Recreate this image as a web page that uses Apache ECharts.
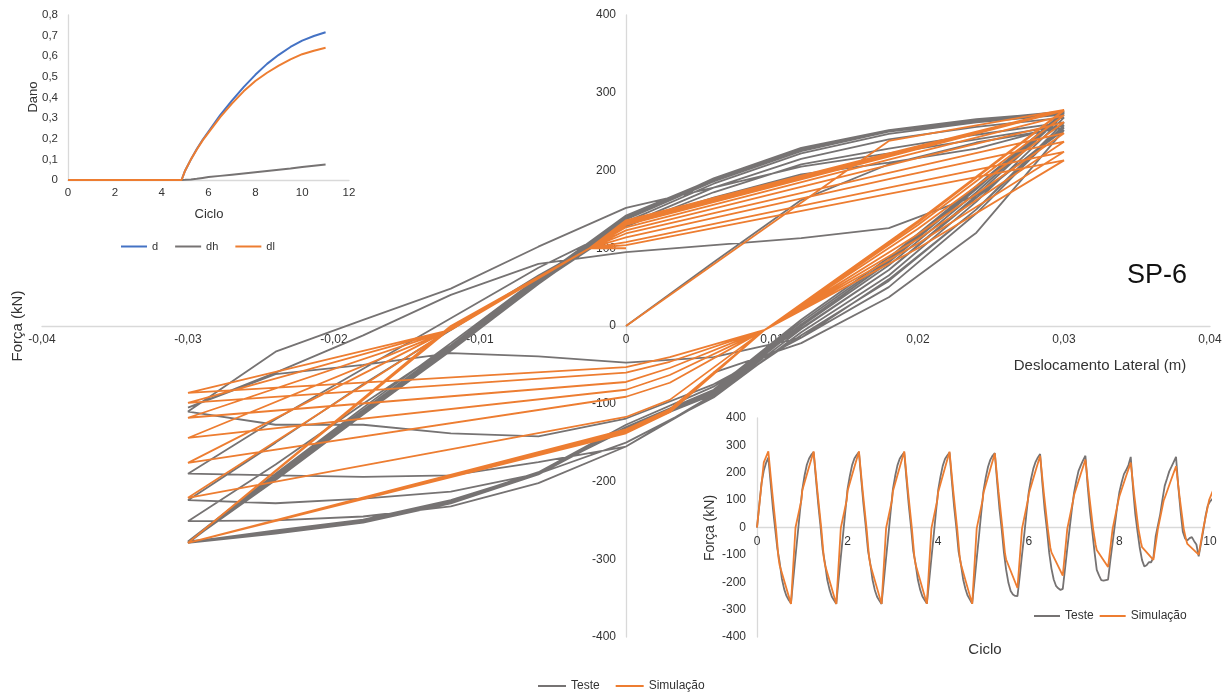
<!DOCTYPE html>
<html>
<head>
<meta charset="utf-8">
<title>SP-6</title>
<script src="https://cdn.jsdelivr.net/npm/echarts@6/dist/echarts.min.js"></script>
<style>
  html, body { margin: 0; padding: 0; background: #fff; }
  #chart { width: 1229px; height: 700px; }
</style>
</head>
<body>
<div id="chart"></div>
<script>
// deslocamento de cada ponto do ensaio dentro de um ciclo (m)
const testeDisp = [0, 0.006, 0.012, 0.018, 0.024, 0.03, 0.024, 0.018, 0.012, 0.006,
                   0, -0.006, -0.012, -0.018, -0.024, -0.03, -0.024, -0.018, -0.012, -0.006];
const testeStep = 0.05; // ciclo por ponto do ensaio
// força do ensaio (kN), um array por ciclo
const testeForce = [
  [0, 82, 162, 208, 236, 255, 165, 72, -3, -78, -127, -188, -225, -250, -265, -277, -190, -105, -22, 62],
  [138, 190, 229, 252, 266, 275, 180, 88, 8, -82, -130, -190, -226, -252, -266, -279, -192, -108, -25, 60],
  [142, 189, 228, 252, 265, 276, 178, 85, 5, -84, -131, -191, -228, -253, -267, -279, -194, -110, -28, 58],
  [140, 188, 227, 251, 264, 275, 176, 82, 2, -86, -132, -190, -226, -251, -265, -278, -196, -112, -30, 56],
  [137, 186, 225, 250, 263, 274, 172, 78, 0, -88, -133, -189, -224, -249, -263, -278, -198, -114, -32, 54],
  [134, 183, 222, 247, 262, 272, 168, 72, -4, -90, -155, -202, -232, -245, -250, -251, -178, -100, -25, 55],
  [130, 178, 215, 240, 256, 268, 160, 65, -8, -92, -150, -190, -213, -222, -228, -224, -150, -75, -5, 65],
  [128, 172, 208, 228, 246, 262, 150, 58, -12, -88, -155, -175, -192, -194, -192, -190, -120, -55, 10, 75],
  [130, 165, 195, 210, 228, 258, 145, 50, -15, -75, -119, -142, -138, -127, -127, -110, -33, 8, 48, 102],
  [152, 178, 205, 222, 240, 258, 150, 60, -15, -40, -47, -39, -35, -50, -62, -105, -60, -12, 40, 80],
  [95, 104, 113, 126, 168, 252, 120, 37, -22, -60]
];

// simulação: deslocamento e fase (fração do ciclo) dos pontos de cada ciclo
const simDisp  = [0, 0.018, 0.03, 0.02, 0.0095, 0.003, 0, -0.03, -0.012, -0.0025];
const simPhase = [0, 0.15, 0.25, 0.333, 0.42, 0.475, 0.5, 0.75, 0.85, 0.98];
const simForce = [
  [0, 238, 278, 135, -5, -111, -138, -279, 0, 100],
  [136, 222, 278, 135, -5, -110, -136, -279, -2, 100],
  [134, 221, 278, 134, -5, -109, -135, -279, -2, 100],
  [132, 220, 278, 134, -5, -108, -134, -279, -3, 100],
  [130, 218, 277, 133, -5, -107, -133, -279, -3, 100],
  [127, 214, 271, 130, -5, -95, -117, -221, -4, 100],
  [123, 207, 262, 125, -5, -73, -91, -176, -4, 100],
  [119, 197, 248, 118, -5, -63, -82, -144, -5, 100],
  [114, 189, 237, 112, -5, -54, -72, -118, -5, 100],
  [108, 178, 224, 106, -5, -46, -60, -99, -5, 100],
  [104, 170, 213, 100, -5, -40, -53, -86, -5, 100],
  [100]
];

// dano
const danoCiclo = [0, 4.85, 5, 5.25, 5.5, 5.75, 6, 6.5, 7, 7.5, 8, 8.5, 9, 9.5, 10, 10.5, 11];
const danoD  = [0, 0, 0.045, 0.1, 0.15, 0.195, 0.235, 0.315, 0.385, 0.45, 0.51, 0.563, 0.607, 0.645, 0.676, 0.698, 0.716];
const danoDh = [0, 0, 0.001, 0.003, 0.006, 0.01, 0.014, 0.02, 0.026, 0.032, 0.038, 0.044, 0.05, 0.056, 0.063, 0.069, 0.075];
const danoDl = [0, 0, 0.045, 0.1, 0.148, 0.192, 0.23, 0.305, 0.37, 0.43, 0.48, 0.52, 0.555, 0.585, 0.61, 0.627, 0.641];

const CINZA = '#767373';
const LARANJA = '#ED7D31';
const AZUL = '#4472C4';
const FONTE = '"Liberation Sans", Arial, sans-serif';

// monta os pares [x, y]
const mainTeste = [], cicloTeste = [];
testeForce.forEach((ciclo, c) => {
  ciclo.forEach((f, j) => {
    mainTeste.push([testeDisp[j], f]);
    cicloTeste.push([c + j * testeStep, f]);
  });
});
const mainSim = [], cicloSim = [];
simForce.forEach((ciclo, c) => {
  ciclo.forEach((f, j) => {
    mainSim.push([simDisp[j], f]);
    cicloSim.push([c + simPhase[j], f]);
  });
});
const par = (xs, ys) => xs.map((x, i) => [x, ys[i]]);

function virgula(v, casas) {
  if (Math.abs(v) < 1e-9) return '0';
  return v.toFixed(casas).replace('.', ',');
}

const linha = (name, data, cor, idx, extra) => Object.assign({
  name: name,
  type: 'line',
  xAxisIndex: idx,
  yAxisIndex: idx,
  data: data,
  symbol: 'none',
  showSymbol: false,
  lineStyle: { width: 2, color: cor },
  itemStyle: { color: cor },
  emphasis: { disabled: true },
  silent: true
}, extra || {});

const eixoTexto = { color: '#333', fontFamily: FONTE };
const linhaEixo = { color: '#d9d9d9', width: 1.3 };

const chart = echarts.init(document.getElementById('chart'));
chart.setOption({
  animation: false,
  backgroundColor: '#fff',
  textStyle: { fontFamily: FONTE },
  grid: [
    { left: 42, top: 15, width: 1168, height: 622 },
    { left: 68, top: 15, width: 281, height: 165 },
    { left: 757, top: 418, width: 453, height: 219 }
  ],
  xAxis: [
    {
      // eixo desenhado na linha de força zero
      gridIndex: 0, type: 'value', min: -0.04, max: 0.04, interval: 0.01,
      position: 'bottom', offset: -311,
      axisLine: { onZero: false, lineStyle: linhaEixo },
      axisTick: { show: false }, splitLine: { show: false },
      axisLabel: Object.assign({ fontSize: 12, margin: 8, formatter: v => virgula(v, 2) }, eixoTexto)
    },
    {
      gridIndex: 1, type: 'value', min: 0, max: 12, interval: 2,
      axisLine: { onZero: false, lineStyle: linhaEixo },
      axisTick: { show: false }, splitLine: { show: false },
      axisLabel: Object.assign({ fontSize: 11.5, margin: 7 }, eixoTexto)
    },
    {
      gridIndex: 2, type: 'value', min: 0, max: 10, interval: 2,
      position: 'bottom', offset: -109.5,
      axisLine: { onZero: false, lineStyle: linhaEixo },
      axisTick: { show: false }, splitLine: { show: false },
      axisLabel: Object.assign({ fontSize: 12, margin: 8 }, eixoTexto)
    }
  ],
  yAxis: [
    {
      // eixo desenhado no deslocamento zero
      gridIndex: 0, type: 'value', min: -400, max: 400, interval: 100,
      position: 'left', offset: -584,
      axisLine: { show: true, onZero: false, lineStyle: linhaEixo },
      axisTick: { show: false }, splitLine: { show: false },
      axisLabel: Object.assign({ fontSize: 12, margin: 10 }, eixoTexto)
    },
    {
      gridIndex: 1, type: 'value', min: 0, max: 0.8, interval: 0.1,
      axisLine: { show: true, onZero: false, lineStyle: linhaEixo },
      axisTick: { show: false }, splitLine: { show: false },
      axisLabel: Object.assign({ fontSize: 11.5, margin: 10, formatter: v => virgula(v, 1) }, eixoTexto)
    },
    {
      gridIndex: 2, type: 'value', min: -400, max: 400, interval: 100,
      axisLine: { show: true, onZero: false, lineStyle: linhaEixo },
      axisTick: { show: false }, splitLine: { show: false },
      axisLabel: Object.assign({ fontSize: 12, margin: 11 }, eixoTexto)
    }
  ],
  legend: [
    {
      data: ['Teste', 'Simulação'], left: 538, top: 680, padding: 0,
      icon: 'rect', itemWidth: 28, itemHeight: 2, itemGap: 16,
      textStyle: Object.assign({ fontSize: 12 }, eixoTexto)
    },
    {
      data: ['d', 'dh', 'dl'], left: 121, top: 241, padding: 0,
      icon: 'rect', itemWidth: 26, itemHeight: 2, itemGap: 17,
      textStyle: Object.assign({ fontSize: 11 }, eixoTexto)
    },
    {
      data: ['Teste', 'Simulação'], left: 1034, top: 610, padding: 0,
      icon: 'rect', itemWidth: 26, itemHeight: 2, itemGap: 6,
      textStyle: Object.assign({ fontSize: 12 }, eixoTexto)
    }
  ],
  series: [
    linha('Teste', mainTeste, CINZA, 0, { lineStyle: { width: 1.8, color: CINZA } }),
    linha('Simulação', mainSim, LARANJA, 0, { lineStyle: { width: 1.8, color: LARANJA } }),
    linha('d', par(danoCiclo, danoD), AZUL, 1),
    linha('dh', par(danoCiclo, danoDh), CINZA, 1),
    linha('dl', par(danoCiclo, danoDl), LARANJA, 1),
    linha('Teste', cicloTeste, CINZA, 2, { lineStyle: { width: 1.8, color: CINZA } }),
    linha('Simulação', cicloSim, LARANJA, 2, { lineStyle: { width: 1.8, color: LARANJA } })
  ],
  graphic: [
    { type: 'text', x: 1100, y: 366, style: { text: 'Deslocamento Lateral (m)', font: '15px ' + FONTE, fill: '#333', align: 'center', verticalAlign: 'middle', textAlign: 'center', textVerticalAlign: 'middle' } },
    { type: 'text', x: 18, y: 326, rotation: Math.PI / 2, style: { text: 'Força (kN)', font: '15px ' + FONTE, fill: '#333', align: 'center', verticalAlign: 'middle', textAlign: 'center', textVerticalAlign: 'middle' } },
    { type: 'text', x: 1157, y: 276, style: { text: 'SP-6', font: '27px ' + FONTE, fill: '#111', align: 'center', verticalAlign: 'middle', textAlign: 'center', textVerticalAlign: 'middle' } },
    { type: 'text', x: 209, y: 214, style: { text: 'Ciclo', font: '13px ' + FONTE, fill: '#333', align: 'center', verticalAlign: 'middle', textAlign: 'center', textVerticalAlign: 'middle' } },
    { type: 'text', x: 33, y: 97, rotation: Math.PI / 2, style: { text: 'Dano', font: '13px ' + FONTE, fill: '#333', align: 'center', verticalAlign: 'middle', textAlign: 'center', textVerticalAlign: 'middle' } },
    { type: 'text', x: 985, y: 650, style: { text: 'Ciclo', font: '15px ' + FONTE, fill: '#333', align: 'center', verticalAlign: 'middle', textAlign: 'center', textVerticalAlign: 'middle' } },
    { type: 'text', x: 710, y: 528, rotation: Math.PI / 2, style: { text: 'Força (kN)', font: '14px ' + FONTE, fill: '#333', align: 'center', verticalAlign: 'middle', textAlign: 'center', textVerticalAlign: 'middle' } }
  ]
});
</script>
</body>
</html>
